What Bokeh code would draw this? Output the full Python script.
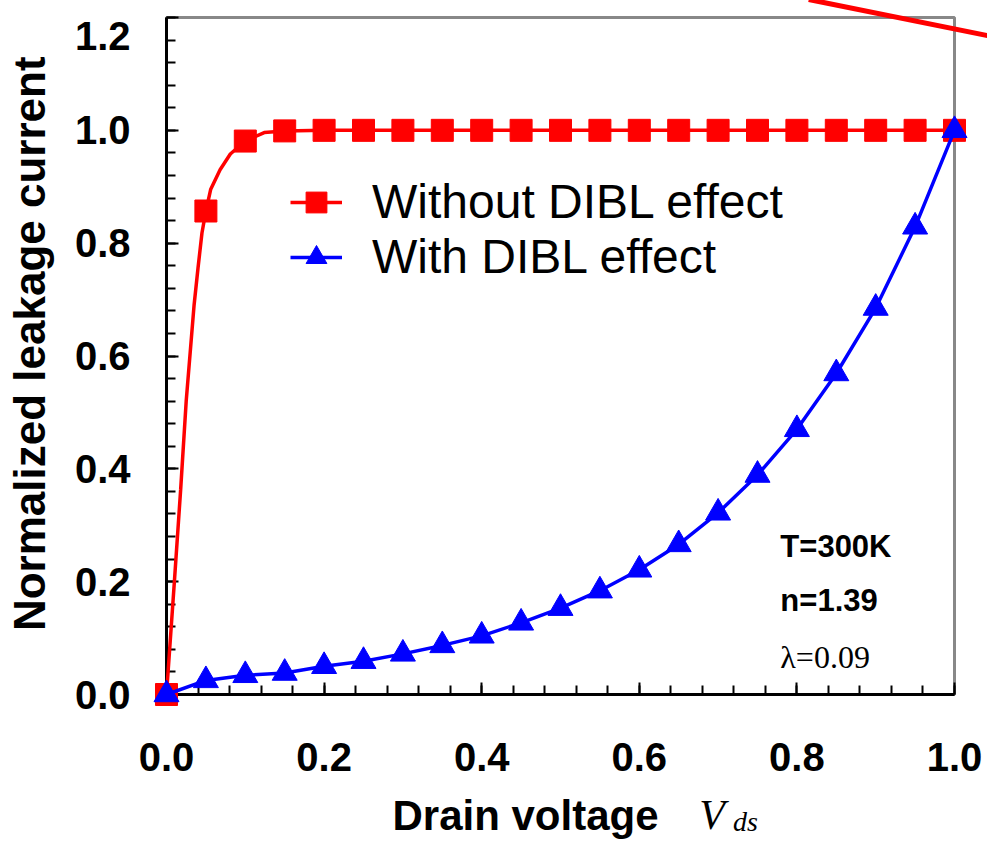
from bokeh.plotting import figure
from bokeh.models import FixedTicker, Legend, LegendItem, Range1d
from bokeh.core.properties import value
from bokeh.embed import file_html
from bokeh.resources import INLINE

# ---- data ----
vds = [0.0, 0.05, 0.10, 0.15, 0.20, 0.25, 0.30, 0.35, 0.40, 0.45, 0.50,
       0.55, 0.60, 0.65, 0.70, 0.75, 0.80, 0.85, 0.90, 0.95, 1.00]
without_dibl = [0.0, 0.857, 0.981, 0.999, 1.0, 1.0, 1.0, 1.0, 1.0, 1.0, 1.0,
                1.0, 1.0, 1.0, 1.0, 1.0, 1.0, 1.0, 1.0, 1.0, 1.0]
with_dibl = [0.0, 0.025, 0.034, 0.038, 0.050, 0.059, 0.072, 0.087, 0.104, 0.127, 0.153,
             0.184, 0.221, 0.266, 0.322, 0.389, 0.470, 0.569, 0.685, 0.829, 1.0]
# smooth curve of the red series (read at finer steps)
curve_x = [0.0, 0.010, 0.018, 0.025, 0.035, 0.040, 0.045, 0.050, 0.056, 0.068, 0.081,
           0.100, 0.124, 0.150, 0.200, 1.000]
curve_y = [0.0, 0.200, 0.364, 0.520, 0.690, 0.756, 0.818, 0.857, 0.895, 0.930, 0.958,
           0.981, 0.996, 0.999, 1.000, 1.000]

x_ticks = [0.0, 0.2, 0.4, 0.6, 0.8, 1.0]
x_tick_labels = ["0.0", "0.2", "0.4", "0.6", "0.8", "1.0"]
y_ticks = [0.0, 0.2, 0.4, 0.6, 0.8, 1.0, 1.2]
y_tick_labels = ["0.0", "0.2", "0.4", "0.6", "0.8", "1.0", "\n1.2"]
minor_step = 0.04

series_names = ["Without DIBL effect", "With DIBL effect"]
params = ["T=300K", "n=1.39", "\u03bb=0.09"]
params_x = [0.779, 0.779, 0.779]
params_y = [0.263, 0.166, 0.067]

# axis-title symbol V_ds (placed after "Drain voltage")
sym_x = [0.676]
sym_y = [-0.2139]
sub_x = [0.719]
sub_y = [-0.2245]

# stray red stroke crossing the top-right corner of the reference
stroke_x0, stroke_y0, stroke_x1, stroke_y1 = [0.815], [1.232], [1.045], [1.167]

RED = "#ff0000"
BLUE = "#0000ff"
FONT = "Liberation Sans"

p = figure(width=987, height=841, x_range=Range1d(0, 1.0), y_range=Range1d(0, 1.2),
           output_backend="svg", toolbar_location=None,
           min_border_left=166, min_border_right=33, min_border_top=17, min_border_bottom=145)
p.grid.visible = False
p.outline_line_color = "#888888"
p.outline_line_width = 3
p.background_fill_color = "white"

r_curve = p.line(curve_x, curve_y, line_color=RED, line_width=3.5, level="overlay")
r_sq = p.scatter(vds, without_dibl, marker="square", size=22, fill_color=RED, line_color=RED,
                 level="overlay")
b_line = p.line(vds, with_dibl, line_color=BLUE, line_width=3.5, level="overlay")
b_tri = p.scatter(vds, with_dibl, marker="triangle", size=25, fill_color=BLUE, line_color=BLUE,
                  level="overlay")

xminor = [round(i * minor_step, 4) for i in range(int(round(1.0 / minor_step)) + 1)]
yminor = [round(i * minor_step, 4) for i in range(int(round(1.2 / minor_step)) + 1)]
p.xaxis.ticker = FixedTicker(ticks=x_ticks, minor_ticks=xminor)
p.yaxis.ticker = FixedTicker(ticks=y_ticks, minor_ticks=yminor)
p.xaxis.major_label_overrides = dict(zip(x_ticks, x_tick_labels))
p.yaxis.major_label_overrides = dict(zip(y_ticks, y_tick_labels))

for ax in (p.xaxis, p.yaxis):
    ax.axis_line_color = "black"
    ax.axis_line_width = 3
    ax.major_tick_in = 12
    ax.major_tick_out = 0
    ax.minor_tick_in = 9
    ax.minor_tick_out = 0
    ax.major_tick_line_width = 2
    ax.minor_tick_line_width = 2
    ax.major_tick_line_color = "black"
    ax.minor_tick_line_color = "black"
    ax.major_label_text_font = FONT
    ax.major_label_text_font_style = "bold"
    ax.major_label_text_font_size = "40px"
    ax.major_label_text_color = "black"
    ax.axis_label_text_font = FONT
    ax.axis_label_text_font_style = "bold"
    ax.axis_label_text_color = "black"

p.yaxis.major_label_standoff = 36
p.yaxis.major_label_text_line_height = 0.3
p.yaxis.axis_label = "\u00a0\u00a0Normalized leakage current"
p.yaxis.axis_label_text_font_size = "44px"
p.yaxis.axis_label_standoff = 18
p.xaxis.major_label_standoff = 48
p.xaxis.axis_label = "Drain voltage" + "\u00a0" * 6
p.xaxis.axis_label_text_font_size = "42px"
p.xaxis.axis_label_standoff = 18

legend = Legend(items=[LegendItem(label=series_names[0], renderers=[r_curve, r_sq]),
                       LegendItem(label=series_names[1], renderers=[b_line, b_tri])],
                location=(124, 410), label_text_font=FONT, label_text_font_size="48px",
                label_text_color="black",
                glyph_width=52, glyph_height=54, label_standoff=30, padding=0, margin=0,
                spacing=0, border_line_alpha=0, background_fill_alpha=0)
p.add_layout(legend)

# parameter annotations
p.text(x=params_x[:2], y=params_y[:2], text=params[:2], text_font=value(FONT),
       text_font_style="bold", text_font_size="31px", text_baseline="middle",
       text_color="black", level="overlay")
p.text(x=params_x[2:], y=params_y[2:], text=params[2:], text_font=value("Liberation Serif"),
       text_font_size="32px", text_baseline="middle", text_color="black", level="overlay")

# V_ds symbol
p.text(x=sym_x, y=sym_y, text=["V"], text_font=value("Liberation Serif"),
       text_font_style="italic", text_font_size="42px", text_baseline="middle",
       text_color="black", level="overlay")
p.text(x=sub_x, y=sub_y, text=["ds"], text_font=value("Liberation Serif"),
       text_font_style="italic", text_font_size="28px", text_baseline="middle",
       text_color="black", level="overlay")

# stray red stroke
p.segment(x0=stroke_x0, y0=stroke_y0, x1=stroke_x1, y1=stroke_y1, line_color=RED,
          line_width=5, level="overlay")

open("out.html", "w").write(file_html(p, INLINE))
